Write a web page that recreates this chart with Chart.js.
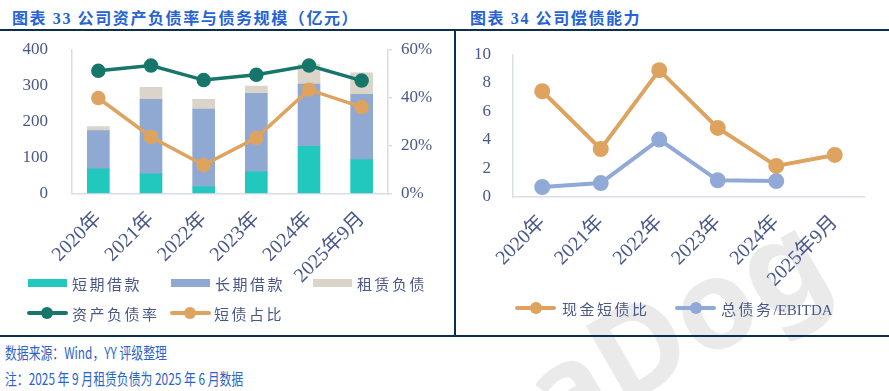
<!DOCTYPE html>
<html>
<head>
<meta charset="utf-8">
<script src="https://cdn.jsdelivr.net/npm/chart.js@4.4.1/dist/chart.umd.min.js"></script>
<style>
  html, body { margin: 0; padding: 0; background: #fff; }
  body { width: 889px; height: 391px; position: relative; overflow: hidden;
         font-family: "Liberation Serif", "Noto Sans CJK SC", serif; }
  .abs { position: absolute; }
  .title { color: #2563d6; font-weight: bold; font-size: 16px; letter-spacing: 1.6px; top: 5px; white-space: nowrap;
           font-family: "Liberation Serif", "Noto Sans CJK SC", serif; }
  .rule { background: #0d2f4f; }
  .wm { left: 575px; top: 478px; width: 0; height: 0; transform: rotate(-30deg); transform-origin: 0 0; }
  .wm span { position: absolute; left: 0; bottom: 0; line-height: 1; font: bold 125px "Noto Sans", sans-serif;
             color: #000; opacity: 0.08; white-space: nowrap; }
  canvas { position: absolute; }
  .leg { color: #4a5888; font-size: 15px; white-space: nowrap; }
  .leg .cj { letter-spacing: 2.5px; }
  .swatch { position: absolute; height: 8px; width: 39px; }
  .lline { position: absolute; height: 4px; width: 41px; border-radius: 2px; }
  .ldot { position: absolute; width: 12px; height: 12px; border-radius: 6px; }
  .foot { color: #2a64c8; font-size: 16px; left: 5px; white-space: nowrap;
          transform: scaleX(0.74); transform-origin: left center; font-family: "Noto Sans CJK SC", sans-serif; }
</style>
</head>
<body>
<div class="abs wm"><span>aDog</span></div>

<div class="abs title" style="left:12px;">图表 33 公司资产负债率与债务规模（亿元）</div>
<div class="abs title" style="left:470px;">图表 34 公司偿债能力</div>
<div class="abs rule" style="left:0;top:29px;width:889px;height:2px;"></div>
<div class="abs rule" style="left:454px;top:30px;width:2px;height:307px;"></div>
<div class="abs rule" style="left:0;top:335px;width:889px;height:2px;"></div>

<canvas id="leftChart" width="455" height="290" style="left:0;top:30px;"></canvas>
<canvas id="rightChart" width="433" height="290" style="left:456px;top:30px;"></canvas>

<!-- left legend -->
<div class="swatch" style="left:28px;top:279px;background:#22c7be;"></div>
<div class="abs leg" style="left:72px;top:273px;"><span class="cj">短期借款</span></div>
<div class="swatch" style="left:171px;top:279px;background:#90a9d2;"></div>
<div class="abs leg" style="left:215px;top:273px;"><span class="cj">长期借款</span></div>
<div class="swatch" style="left:313px;top:279px;background:#dad4c9;"></div>
<div class="abs leg" style="left:357px;top:273px;"><span class="cj">租赁负债</span></div>

<div class="lline" style="left:27px;top:311px;background:#17766a;"></div>
<div class="ldot" style="left:41px;top:307px;background:#17766a;"></div>
<div class="abs leg" style="left:72px;top:303px;"><span class="cj">资产负债率</span></div>
<div class="lline" style="left:170px;top:311px;background:#dea35e;"></div>
<div class="ldot" style="left:184px;top:307px;background:#dea35e;"></div>
<div class="abs leg" style="left:214px;top:303px;"><span class="cj">短债占比</span></div>

<!-- right legend -->
<div class="lline" style="left:515px;top:306px;background:#dea35e;"></div>
<div class="ldot" style="left:530px;top:302px;background:#dea35e;"></div>
<div class="abs leg" style="left:562px;top:298px;"><span class="cj">现金短债比</span></div>
<div class="lline" style="left:675px;top:306px;background:#90a9d6;"></div>
<div class="ldot" style="left:690px;top:302px;background:#90a9d6;"></div>
<div class="abs leg" style="left:721px;top:298px;"><span class="cj">总债务</span>/EBITDA</div>

<div class="abs foot" style="top:340px;">数据来源：Wind，YY 评级整理</div>
<div class="abs foot" style="top:366px;">注：2025 年 9 月租赁负债为 2025 年 6 月数据</div>

<script>
const categories = ['2020年', '2021年', '2022年', '2023年', '2024年', '2025年9月'];

// 图表33 (亿元 / %)
const shortLoans = [68, 54, 19, 60, 131, 94];
const longLoans = [107, 208, 216, 219, 174, 182];
const leaseLiab = [11, 34, 27, 20, 56, 60];
const debtRatio = [51.3, 53.5, 47.4, 49.6, 53.5, 47.2];
const shortDebtShare = [39.9, 23.6, 11.8, 23.2, 43.4, 36.1];

// 图表34
const cashToShortDebt = [7.42, 3.37, 8.9, 4.85, 2.18, 2.95];
const debtToEbitda = [0.70, 0.98, 4.03, 1.17, 1.12, null];

const tickColor = '#4a5888';
const axisColor = '#d9dde8';
const tickFont = { family: '"Liberation Serif", "Noto Sans CJK SC", serif', size: 17 };
const xFont = { family: '"Liberation Serif", "Noto Sans CJK SC", serif', size: 20 };

// y axes: fixed width, and don't let tick padding push the plot down
function fixWidth(w) {
  return (scale) => {
    scale.width = w;
    scale.paddingTop = 8;
    scale.paddingBottom = 8;
  };
}
function fixHeight(h) { return (scale) => { scale.height = h; }; }

const xAxis = (h) => ({
  stacked: true,
  grid: { display: false },
  border: { color: axisColor, width: 1.5 },
  ticks: { color: tickColor, font: xFont, minRotation: 45, maxRotation: 45, autoSkip: false, padding: 6 },
  afterFit: fixHeight(h)
});

new Chart(document.getElementById('leftChart'), {
  data: {
    labels: categories,
    datasets: [
      { type: 'line', label: '资产负债率', data: debtRatio, yAxisID: 'y1', order: 0,
        borderColor: '#17766a', backgroundColor: '#17766a', borderWidth: 3.5,
        pointRadius: 5.5, pointHoverRadius: 5.5, tension: 0 },
      { type: 'line', label: '短债占比', data: shortDebtShare, yAxisID: 'y1', order: 0,
        borderColor: '#dea35e', backgroundColor: '#dea35e', borderWidth: 3.5,
        pointRadius: 5.5, pointHoverRadius: 5.5, tension: 0 },
      { type: 'bar', label: '短期借款', data: shortLoans, yAxisID: 'y', order: 1,
        backgroundColor: '#22c7be', barThickness: 22 },
      { type: 'bar', label: '长期借款', data: longLoans, yAxisID: 'y', order: 1,
        backgroundColor: '#90a9d2', barThickness: 22 },
      { type: 'bar', label: '租赁负债', data: leaseLiab, yAxisID: 'y', order: 1,
        backgroundColor: '#dad4c9', barThickness: 22 }
    ]
  },
  options: {
    responsive: false,
    animation: false,
    devicePixelRatio: 1,
    layout: { padding: { top: 20, left: 0, right: 0, bottom: 0 } },
    plugins: { legend: { display: false }, tooltip: { enabled: false } },
    scales: {
      x: xAxis(126.7),
      y: {
        stacked: true, position: 'left', min: 0, max: 400,
        grid: { display: false },
        border: { color: axisColor, width: 1.5 },
        ticks: { stepSize: 100, color: tickColor, font: tickFont, padding: 16 },
        afterFit: fixWidth(72)
      },
      y1: {
        position: 'right', min: 0, max: 60,
        grid: { drawOnChartArea: false, color: axisColor, tickLength: 4, lineWidth: 1.5 },
        border: { color: axisColor, width: 1.5 },
        ticks: { stepSize: 20, color: tickColor, font: tickFont, padding: 9, callback: (v) => v + '%' },
        afterFit: fixWidth(67)
      }
    }
  }
});

new Chart(document.getElementById('rightChart'), {
  type: 'line',
  data: {
    labels: categories,
    datasets: [
      { label: '现金短债比', data: cashToShortDebt,
        borderColor: '#dea35e', backgroundColor: '#dea35e', borderWidth: 4,
        pointRadius: 6, pointHoverRadius: 6, tension: 0 },
      { label: '总债务/EBITDA', data: debtToEbitda,
        borderColor: '#90a9d6', backgroundColor: '#90a9d6', borderWidth: 4,
        pointRadius: 6, pointHoverRadius: 6, tension: 0 }
    ]
  },
  options: {
    responsive: false,
    animation: false,
    devicePixelRatio: 1,
    layout: { padding: { top: 24.5, left: 0, right: 25, bottom: 0 } },
    plugins: { legend: { display: false }, tooltip: { enabled: false } },
    scales: {
      x: Object.assign(xAxis(123), { offset: true }),
      y: {
        min: 0, max: 10,
        grid: { display: false },
        border: { color: axisColor, width: 1.5 },
        ticks: { stepSize: 2, color: tickColor, font: tickFont, padding: 14 },
        afterFit: fixWidth(57)
      }
    }
  }
});
</script>
</body>
</html>
